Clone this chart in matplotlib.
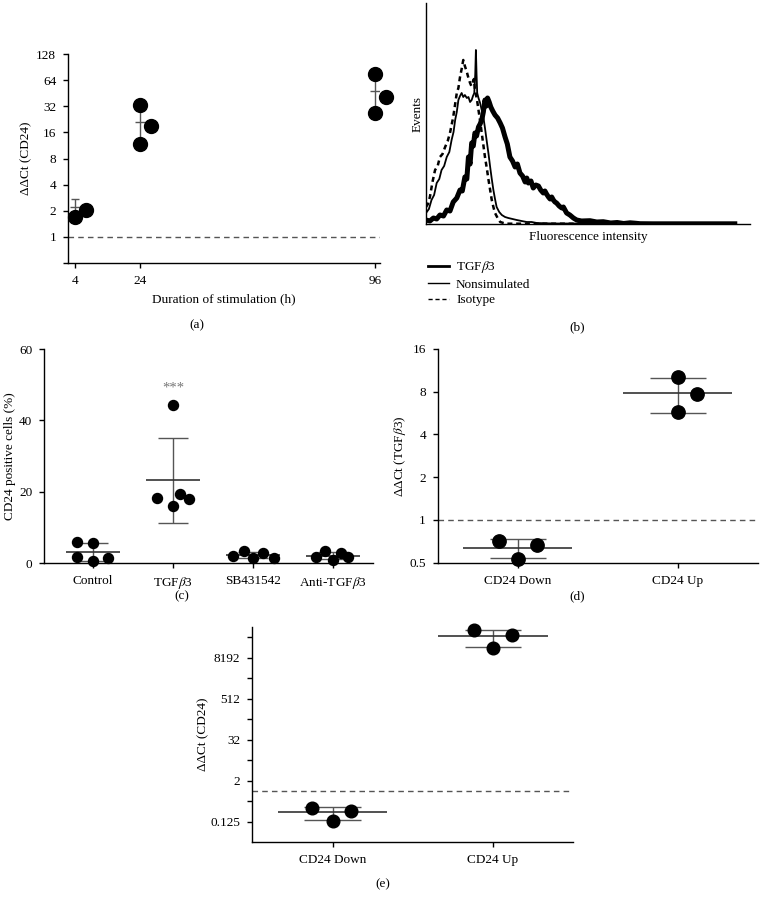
import numpy as np
import matplotlib
matplotlib.use("Agg")
import matplotlib.pyplot as plt
from matplotlib.lines import Line2D
from matplotlib.ticker import NullLocator

plt.rcParams["font.family"] = ["Liberation Serif", "DejaVu Serif"]
plt.rcParams["mathtext.fontset"] = "stix"
plt.rcParams["font.size"] = 9.5
plt.rcParams["axes.linewidth"] = 1.0

# --------------------------------------------------
# data
# --------------------------------------------------
# (a) CD24 expression vs stimulation time
hours = [4, 24, 96]
a_values = [[1.68, 2.04], [32.8, 11.8, 18.8], [76.0, 26.9, 41.0]]
a_jitter = [[0, 3.4], [0, 0, 3.4], [0, 0, 3.4]]
a_mean = [2.2, 21.2, 48.5]
a_sd = [0.56, 10.7, 25.3]

# (b) flow cytometry histograms (channel, events)
tgf_ch = [0, 12, 23, 33, 43, 54, 64, 74, 84, 95, 105, 112, 120, 126, 131, 136,
          141, 146, 151, 156, 162, 167, 172, 177, 182, 186, 190, 195, 200, 206,
          213, 221, 229, 236, 244, 251, 259, 267, 275, 282, 290, 298, 306, 311,
          316, 324, 331, 339, 347, 354, 362, 367, 372, 378, 383, 388, 393, 398,
          403, 411, 419, 424, 434, 444, 455, 465, 480, 506, 527, 547, 570, 590,
          610, 630, 645, 661, 700, 953]
tgf_ev = [4, 3, 6, 5, 9, 8, 14, 13, 22, 26, 34, 33, 47, 45, 67, 60,
          81, 78, 91, 88, 97, 100, 104, 112, 124, 118, 126, 122, 117, 113,
          109, 106, 101, 96, 87, 80, 67, 63, 57, 60, 51, 48, 42, 46,
          41, 43, 36, 39, 38, 34, 31, 33, 30, 27, 25, 27, 24, 22,
          21, 18, 16, 17, 11, 9, 6, 4, 3, 3.3, 2, 2.3, 1, 1.5,
          0.5, 1.2, 0.8, 0.3, 0.2, 0.2]
non_ch = [0, 9, 17, 25, 33, 41, 48, 56, 64, 72, 79, 85, 90, 95, 100, 105, 110,
          115, 120, 126, 131, 136, 141, 145, 149, 152, 154, 156, 158, 162,
          167, 172, 177, 182, 187, 193, 198, 203, 208, 213, 218, 226, 234,
          244, 254, 267, 280, 295, 311, 326, 342, 370, 400, 953]
non_ev = [11, 15, 24, 29, 41, 45, 54, 58, 67, 72, 84, 92, 104, 112, 124, 128, 131,
          127, 129, 126, 127, 122, 124, 128, 131, 150, 174, 150, 131, 126,
          121, 114, 107, 96, 84, 70, 57, 45, 34, 25, 17, 12, 9,
          7, 6, 5, 4, 3, 2, 2, 1, 0.7, 0.5, 0.3]
iso_ch = [0, 6, 12, 20, 28, 36, 43, 51, 59, 67, 74, 79, 84, 90, 95, 100, 105,
          110, 115, 120, 126, 131, 136, 140, 144, 148, 151, 157, 162, 167,
          172, 177, 182, 188, 193, 198, 203, 208, 213, 221, 229, 239, 249, 953]
iso_ev = [17, 20, 27, 42, 54, 58, 67, 70, 77, 83, 91, 99, 107, 120, 131, 136, 147,
          155, 164, 158, 152, 146, 141, 138, 142, 145, 134, 125, 114, 103,
          91, 79, 67, 55, 44, 34, 24, 17, 11, 6, 2, 1, 0.3, 0.3]

# (c) CD24 positive cells
c_groups = ["Control", r"TGF$\beta$3", "SB431542", r"Anti-TGF$\beta$3"]
c_values = [[6.0, 5.5, 1.8, 0.6, 1.3],
            [18.3, 16.1, 19.3, 17.9, 44.3],
            [2.1, 3.3, 1.4, 2.9, 1.5],
            [1.8, 3.4, 0.8, 2.7, 1.8]]
c_jitter = [[-0.2, 0, -0.2, 0, 0.19],
            [-0.2, 0, 0.09, 0.2, 0],
            [-0.25, -0.11, 0, 0.12, 0.26],
            [-0.21, -0.1, 0, 0.1, 0.19]]

# (d) TGFb3 expression in sorted cells
de_groups = ["CD24 Down", "CD24 Up"]
d_values = [[0.71, 0.53, 0.67], [10.1, 7.73, 5.74]]
d_jitter = [[-0.12, 0, 0.12], [0, 0.117, 0]]

# (e) CD24 expression in sorted cells
e_values = [[0.321, 0.13, 0.262], [52800, 16050, 37650]]
e_jitter = [[-0.125, 0, 0.117], [-0.12, 0, 0.12]]

GRAY = "#555555"
W, H = 768, 899
fig = plt.figure(figsize=(W / 100, H / 100), dpi=100)


def px_axes(left, top, right, bottom):
    return fig.add_axes([left / W, 1 - bottom / H, (right - left) / W, (bottom - top) / H])


def style(ax):
    ax.spines["top"].set_visible(False)
    ax.spines["right"].set_visible(False)
    ax.tick_params(direction="out", width=1.0, length=3.5, pad=5, labelsize=9.5)


def mean_sd(ax, x, mean, sd, mean_w, cap_w, lw=1.2, color="#333333"):
    ax.vlines(x, mean - sd, mean + sd, color=GRAY, lw=1.0, zorder=2)
    ax.hlines([mean - sd, mean + sd], x - cap_w, x + cap_w, color=GRAY, lw=1.0, zorder=2)
    ax.hlines(mean, x - mean_w, x + mean_w, color=color, lw=lw, zorder=2)


def log2_axis(ax, lo, hi, ticks, labels):
    ax.set_yscale("log", base=2)
    ax.set_ylim(lo, hi)
    ax.set_yticks(ticks)
    ax.set_yticklabels(labels)
    ax.yaxis.set_minor_locator(NullLocator())


# --------------------------------------------------
# (a)
# --------------------------------------------------
ax = px_axes(68, 54, 380, 263)
style(ax)
for h, vals, jit, m, s in zip(hours, a_values, a_jitter, a_mean, a_sd):
    mean_sd(ax, h, m, s, 1.6, 1.1, lw=1.0, color=GRAY)
    ax.plot(np.array(jit) + h, vals, "o", color="black", ms=10, zorder=3, clip_on=False)
ax.axhline(1, color=GRAY, ls=(0, (4, 3)), lw=1.0)
log2_axis(ax, 0.5, 128, [0.5, 1, 2, 4, 8, 16, 32, 64, 128],
          ["", "1", "2", "4", "8", "16", "32", "64", "128"])
ax.set_xlim(1.85, 97.5)
ax.set_xticks(hours)
ax.set_xlabel("Duration of stimulation (h)", labelpad=5)
ax.set_ylabel("ΔΔCt (CD24)", labelpad=3)

# --------------------------------------------------
# (b)
# --------------------------------------------------
ax = px_axes(426, 3, 750, 224)
style(ax)
ax.plot(iso_ch, iso_ev, color="black", ls=(0, (2, 1.5)), lw=1.8)
ax.plot(non_ch, non_ev, color="black", lw=1.3)
ax.plot(tgf_ch, tgf_ev, color="black", lw=3.6)
ax.set_xlim(0, 1000)
ax.set_ylim(0, 221)
ax.set_xticks([])
ax.set_yticks([])
ax.set_xlabel("Fluorescence intensity", labelpad=5)
ax.set_ylabel("Events", labelpad=2)
handles = [Line2D([], [], color="black", lw=2.0),
           Line2D([], [], color="black", lw=1.0),
           Line2D([], [], color="black", lw=1.0, ls=(0, (3, 2)))]
fig.legend(handles, [r"TGF$\beta$3", "Nonsimulated", "Isotype"],
           loc="upper left", bbox_to_anchor=(423 / W, 1 - 254 / H),
           frameon=False, handlelength=1.6, handletextpad=0.5,
           labelspacing=0.25, fontsize=9.5, borderaxespad=0)

# --------------------------------------------------
# (c)
# --------------------------------------------------
ax = px_axes(44, 349, 373, 563)
style(ax)
for i, (vals, jit) in enumerate(zip(c_values, c_jitter)):
    v = np.array(vals)
    mean_sd(ax, i, v.mean(), v.std(ddof=1), 0.34, 0.19)
    ax.plot(np.array(jit) + i, v, "o", color="black", ms=7.2, zorder=3, clip_on=False)
ax.text(1, 49, "***", ha="center", va="center", color="#777777", fontsize=10.5)
ax.set_xlim(-0.61, 3.5)
ax.set_ylim(0, 60)
ax.set_yticks([0, 20, 40, 60])
ax.set_xticks(range(len(c_groups)))
ax.set_xticklabels(c_groups)
ax.set_ylabel("CD24 positive cells (%)", labelpad=2)

# --------------------------------------------------
# (d)
# --------------------------------------------------
ax = px_axes(437.7, 349, 758, 562.7)
style(ax)
for i, (vals, jit) in enumerate(zip(d_values, d_jitter)):
    v = np.array(vals)
    mean_sd(ax, i, v.mean(), v.std(ddof=1), 0.34, 0.175)
    ax.plot(np.array(jit) + i, v, "o", color="black", ms=9.6, zorder=3, clip_on=False)
ax.axhline(1, color=GRAY, ls=(0, (4, 3)), lw=1.0)
log2_axis(ax, 0.5, 16, [0.5, 1, 2, 4, 8, 16], ["0.5", "1", "2", "4", "8", "16"])
ax.set_xlim(-0.5, 1.5)
ax.set_xticks([0, 1])
ax.set_xticklabels(de_groups)
ax.set_ylabel(r"ΔΔCt (TGF$\beta$3)", labelpad=1)

# --------------------------------------------------
# (e)
# --------------------------------------------------
ax = px_axes(252.3, 626.7, 573.3, 842.3)
style(ax)
for i, (vals, jit) in enumerate(zip(e_values, e_jitter)):
    v = np.array(vals)
    mean_sd(ax, i, v.mean(), v.std(ddof=1), 0.34, 0.175)
    ax.plot(np.array(jit) + i, v, "o", color="black", ms=9.1, zorder=3, clip_on=False)
ax.axhline(1, color=GRAY, ls=(0, (4, 3)), lw=1.0)
e_ticks = [2.0 ** k for k in range(-3, 16, 2)]
e_labels = ["0.125", "", "2", "", "32", "", "512", "", "8192", ""]
log2_axis(ax, 2.0 ** -5, 2.0 ** 16, e_ticks, e_labels)
ax.set_xlim(-0.5, 1.5)
ax.set_xticks([0, 1])
ax.set_xticklabels(de_groups)
ax.set_ylabel("ΔΔCt (CD24)", labelpad=1)

# panel letters
for lab, x, y in [("(a)", 197, 325), ("(b)", 577, 327), ("(c)", 182, 596),
                  ("(d)", 577, 596), ("(e)", 383, 884)]:
    fig.text(x / W, 1 - y / H, lab, ha="center", va="center", fontsize=9.5)

fig.savefig("out.png", dpi=100)
